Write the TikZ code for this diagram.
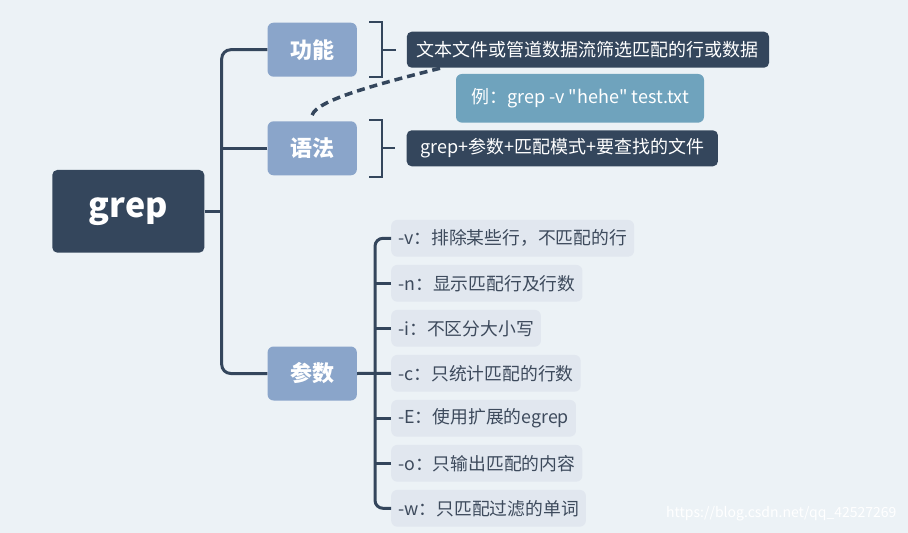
\documentclass[tikz,border=0pt]{standalone}
\usepackage{fontspec}
\setmainfont{Noto Sans CJK SC}[Ligatures=TeXOff]
\usetikzlibrary{positioning}
\definecolor{slate}{HTML}{34465C}
\definecolor{branchblue}{HTML}{8AA5CA}
\definecolor{exampleblue}{HTML}{6FA3BD}
\definecolor{optgray}{HTML}{E1E7EF}
\definecolor{opttext}{HTML}{3D4A5C}
\definecolor{bgblue}{HTML}{ECF2F6}
\tikzset {
  every node/.style={font=\fontsize{18}{21}\selectfont},
  rootbox/.style={fill=slate, text=white, rounded corners=5pt,
    minimum width=152pt, minimum height=82.7pt,
    font=\fontsize{34}{38}\selectfont\bfseries},
  topicbox/.style={fill=branchblue, text=white, rounded corners=6pt,
    minimum width=89.3pt, minimum height=54pt,
    font=\fontsize{22}{26}\selectfont\bfseries},
  descbox/.style={fill=slate, text=white, rounded corners=5pt, minimum height=36pt},
  examplebox/.style={fill=exampleblue, text=white, rounded corners=6pt, minimum height=48.7pt},
  optbox/.style={fill=optgray, text=opttext, rounded corners=6pt,
    minimum height=36.7pt, inner xsep=7pt, anchor=west,
    font=\fontsize{17.8}{21}\selectfont},
  branch/.style={draw=slate, line width=3pt},
  bracket/.style={draw=slate, line width=2pt},
}

\begin{document}
\begin{tikzpicture}[x=1pt,y=-1pt]
  \fill[bgblue] (0,0) rectangle (908,533);
  \useasboundingbox (0,0) rectangle (908,533);

  \node[rootbox] (root) at (128.3,211.3) {grep};
  \node[topicbox] (gongneng) at (312.2,49.7) {功能};
  \node[topicbox] (yufa) at (312.2,148.3) {语法};
  \node[topicbox] (canshu) at (312.2,373.5) {参数};

  \node[descbox, minimum width=362.3pt] (gndesc) at (587.9,49.7) {文本文件或管道数据流筛选匹配的行或数据};
  \node[examplebox, minimum width=248pt] (example) at (580,98.3) {例：grep -v "hehe" test.txt};
  \node[descbox, minimum width=311.3pt] (yfdesc) at (562.3,148.3) {grep+参数+匹配模式+要查找的文件};

  \coordinate (trunk) at (221.7,211.3);
  \draw[branch] (root.east) -- (trunk);
  \draw[branch, rounded corners=9pt] (gongneng.west) -| (trunk) |- (canshu.west);
  \draw[branch] (yufa.west) -- (yufa.west -| trunk);

  \draw[bracket] ([xshift=12pt,yshift=1pt]gongneng.north east) -| ([xshift=25pt]gongneng.east) coordinate (gnbrace)
    |- ([xshift=12pt]gongneng.south east);
  \draw[bracket] (gnbrace) -- ([xshift=-11pt]gndesc.west);
  \draw[bracket] ([xshift=12pt,yshift=1pt]yufa.north east) -| ([xshift=25pt]yufa.east) coordinate (yfbrace)
    |- ([xshift=12pt,yshift=-1pt]yufa.south east);
  \draw[bracket] (yfbrace) -- ([xshift=-11pt]yfdesc.west);

  \draw[slate, line width=3.5pt, dash pattern=on 8pt off 5pt]
    ([yshift=6pt]yufa.north) .. controls +(4,-14) and +(-72,18) .. ([xshift=35pt]gndesc.south west);

  \foreach \flag/\txt [count=\k from 0] in {v/{-v：排除某些行，不匹配的行}, n/{-n：显示匹配行及行数},
      i/{-i：不区分大小写}, c/{-c：只统计匹配的行数}, E/{-E：使用扩展的egrep},
      o/{-o：只输出匹配的内容}, w/{-w：只匹配过滤的单词}}
    \node[optbox] (opt-\flag) at (391,238.3+45*\k) {\txt};

  \coordinate (spine) at (375,373.5);
  \draw[branch, rounded corners=8pt] (opt-v.west) -| (spine) |- (opt-w.west);
  \foreach \flag in {n,i,E,o}
    \draw[branch] (opt-\flag.west) -- (opt-\flag.west -| spine);
  \draw[branch] (canshu.east) -- (opt-c.west);

  \node[text=white, anchor=east, font=\fontsize{14}{16}\selectfont] (mark) at (900,514) {https://blog.csdn.net/qq\_42527269};
\end{tikzpicture}
\end{document}
